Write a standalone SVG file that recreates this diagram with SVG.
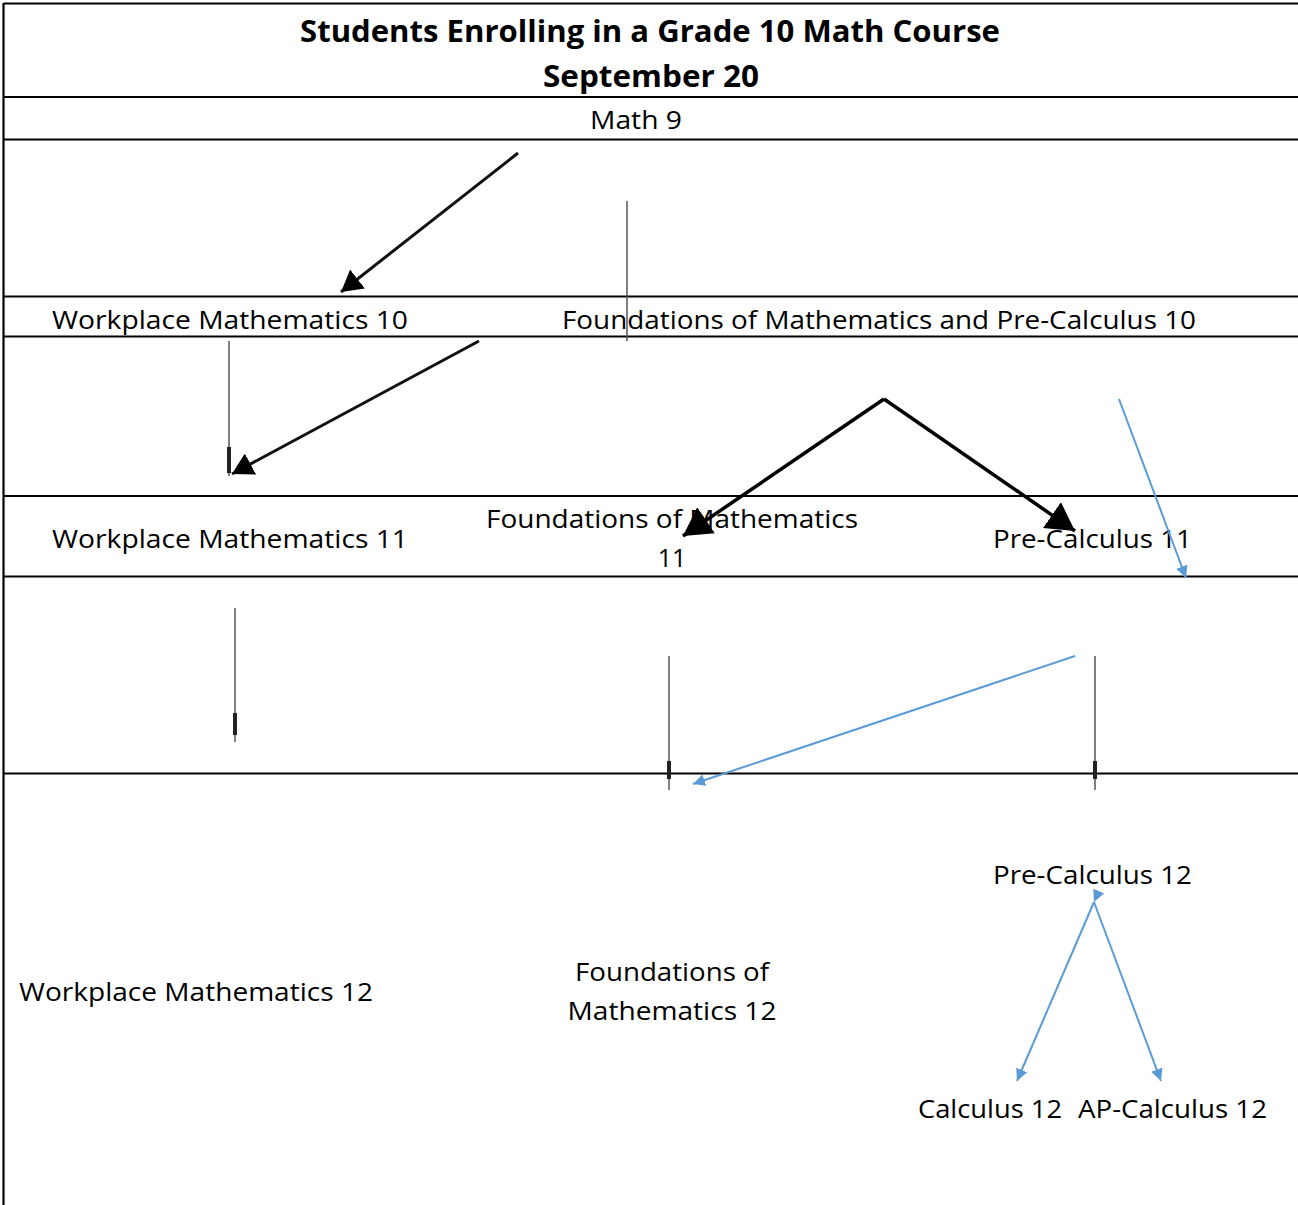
<svg xmlns="http://www.w3.org/2000/svg" width="1298" height="1205" viewBox="0 0 1298 1205">
<style>
.grid{stroke:#000;stroke-width:2.2;fill:none}
.t{font-family:"Open Sans","Liberation Sans",sans-serif;font-size:25px;fill:#000}
.title{font-family:"Open Sans","Liberation Sans",sans-serif;font-size:30px;font-weight:bold;fill:#000}
.blk{stroke:#111;stroke-width:3;fill:none}
.thk{stroke:#000;stroke-width:3.5;fill:none}
.thin{stroke:#555;stroke-width:1.5;fill:none}
.blue{stroke:#5B9BD5;stroke-width:2;fill:none}
.tick{fill:#222}
</style>
<defs>
<marker id="ab" markerWidth="8" markerHeight="8" refX="7" refY="4" orient="auto" markerUnits="strokeWidth"><path d="M0,0 L7,4 L0,8 Z" fill="#000"/></marker>
<marker id="abig" markerWidth="9" markerHeight="9" refX="8" refY="4.5" orient="auto" markerUnits="strokeWidth"><path d="M0,0 L8,4.5 L0,9 Z" fill="#000"/></marker>
<marker id="ablue" markerWidth="6" markerHeight="6" refX="6" refY="3" orient="auto" markerUnits="strokeWidth"><path d="M0,0 L6,3 L0,6 Z" fill="#5B9BD5"/></marker>
</defs>
<rect width="1298" height="1205" fill="#fff"/>
<g id="grid">
<line class="grid" x1="3.5" y1="3.5" x2="1298" y2="3.5"/>
<line class="grid" x1="3.5" y1="3" x2="3.5" y2="1205"/>
<line class="grid" x1="3" y1="97" x2="1298" y2="97"/>
<line class="grid" x1="3" y1="139.5" x2="1298" y2="139.5"/>
<line class="grid" x1="3" y1="296.5" x2="1298" y2="296.5"/>
<line class="grid" x1="3" y1="336.5" x2="1298" y2="336.5"/>
<line class="grid" x1="3" y1="496" x2="1298" y2="496"/>
<line class="grid" x1="3" y1="576.5" x2="1298" y2="576.5"/>
<line class="grid" x1="3" y1="773.5" x2="1298" y2="773.5"/>
</g>
<g id="title"><text class="title" x="650" y="42" text-anchor="middle" textLength="700" lengthAdjust="spacingAndGlyphs">Students Enrolling in a Grade 10 Math Course</text>
<text class="title" x="651" y="87" text-anchor="middle" textLength="216" lengthAdjust="spacingAndGlyphs">September 20</text></g>
<g id="math9"><text class="t" x="636" y="129" text-anchor="middle" textLength="92" lengthAdjust="spacingAndGlyphs">Math 9</text></g>
<g id="wm10"><text class="t" x="52" y="329" textLength="356" lengthAdjust="spacingAndGlyphs">Workplace Mathematics 10</text></g>
<g id="fpc10"><text class="t" x="562" y="329" textLength="634" lengthAdjust="spacingAndGlyphs">Foundations of Mathematics and Pre-Calculus 10</text></g>
<g id="wm11"><text class="t" x="52" y="548" textLength="356" lengthAdjust="spacingAndGlyphs">Workplace Mathematics 11</text></g>
<g id="fm11"><text class="t" x="486" y="528" textLength="372" lengthAdjust="spacingAndGlyphs">Foundations of Mathematics</text>
<text class="t" x="672" y="567" text-anchor="middle">11</text></g>
<g id="pc11"><text class="t" x="993" y="548" textLength="199" lengthAdjust="spacingAndGlyphs">Pre-Calculus 11</text></g>
<g id="pc12"><text class="t" x="993" y="884" textLength="199" lengthAdjust="spacingAndGlyphs">Pre-Calculus 12</text></g>
<g id="wm12"><text class="t" x="19" y="1001" textLength="354" lengthAdjust="spacingAndGlyphs">Workplace Mathematics 12</text></g>
<g id="fm12"><text class="t" x="672" y="981" text-anchor="middle" textLength="194" lengthAdjust="spacingAndGlyphs">Foundations of</text>
<text class="t" x="672" y="1020" text-anchor="middle" textLength="209" lengthAdjust="spacingAndGlyphs">Mathematics 12</text></g>
<g id="calc12"><text class="t" x="918" y="1118" textLength="144" lengthAdjust="spacingAndGlyphs">Calculus 12</text></g>
<g id="apcalc12"><text class="t" x="1078" y="1118" textLength="189" lengthAdjust="spacingAndGlyphs">AP-Calculus 12</text></g>
<g id="connectors">
<line class="blk" x1="518" y1="153" x2="341" y2="292" marker-end="url(#ab)"/>
<line class="thin" x1="627" y1="201" x2="627" y2="341"/>
<line class="thin" x1="229" y1="341" x2="229" y2="476"/>
<rect class="tick" x="227" y="447" width="4" height="26"/>
<line class="blk" x1="479" y1="341" x2="232" y2="474" marker-end="url(#ab)"/>
<line class="thk" x1="884" y1="399" x2="683" y2="536" marker-end="url(#abig)"/>
<line class="thk" x1="884" y1="399" x2="1075" y2="531" marker-end="url(#abig)"/>
<line class="blue" x1="1119" y1="399" x2="1186" y2="578" marker-end="url(#ablue)"/>
<line class="thin" x1="235" y1="608" x2="235" y2="742"/>
<rect class="tick" x="233" y="713" width="4" height="22"/>
<line class="thin" x1="669" y1="656" x2="669" y2="790"/>
<rect class="tick" x="667" y="761" width="4" height="18"/>
<line class="thin" x1="1095" y1="656" x2="1095" y2="790"/>
<rect class="tick" x="1093" y="761" width="4" height="18"/>
<line class="blue" x1="1075" y1="656" x2="693" y2="784" marker-end="url(#ablue)"/>
<line class="blue" x1="1094" y1="902" x2="1017" y2="1081" marker-end="url(#ablue)" marker-start="url(#ablue)"/>
<line class="blue" x1="1094" y1="902" x2="1161" y2="1081" marker-end="url(#ablue)"/>
</g>
</svg>
